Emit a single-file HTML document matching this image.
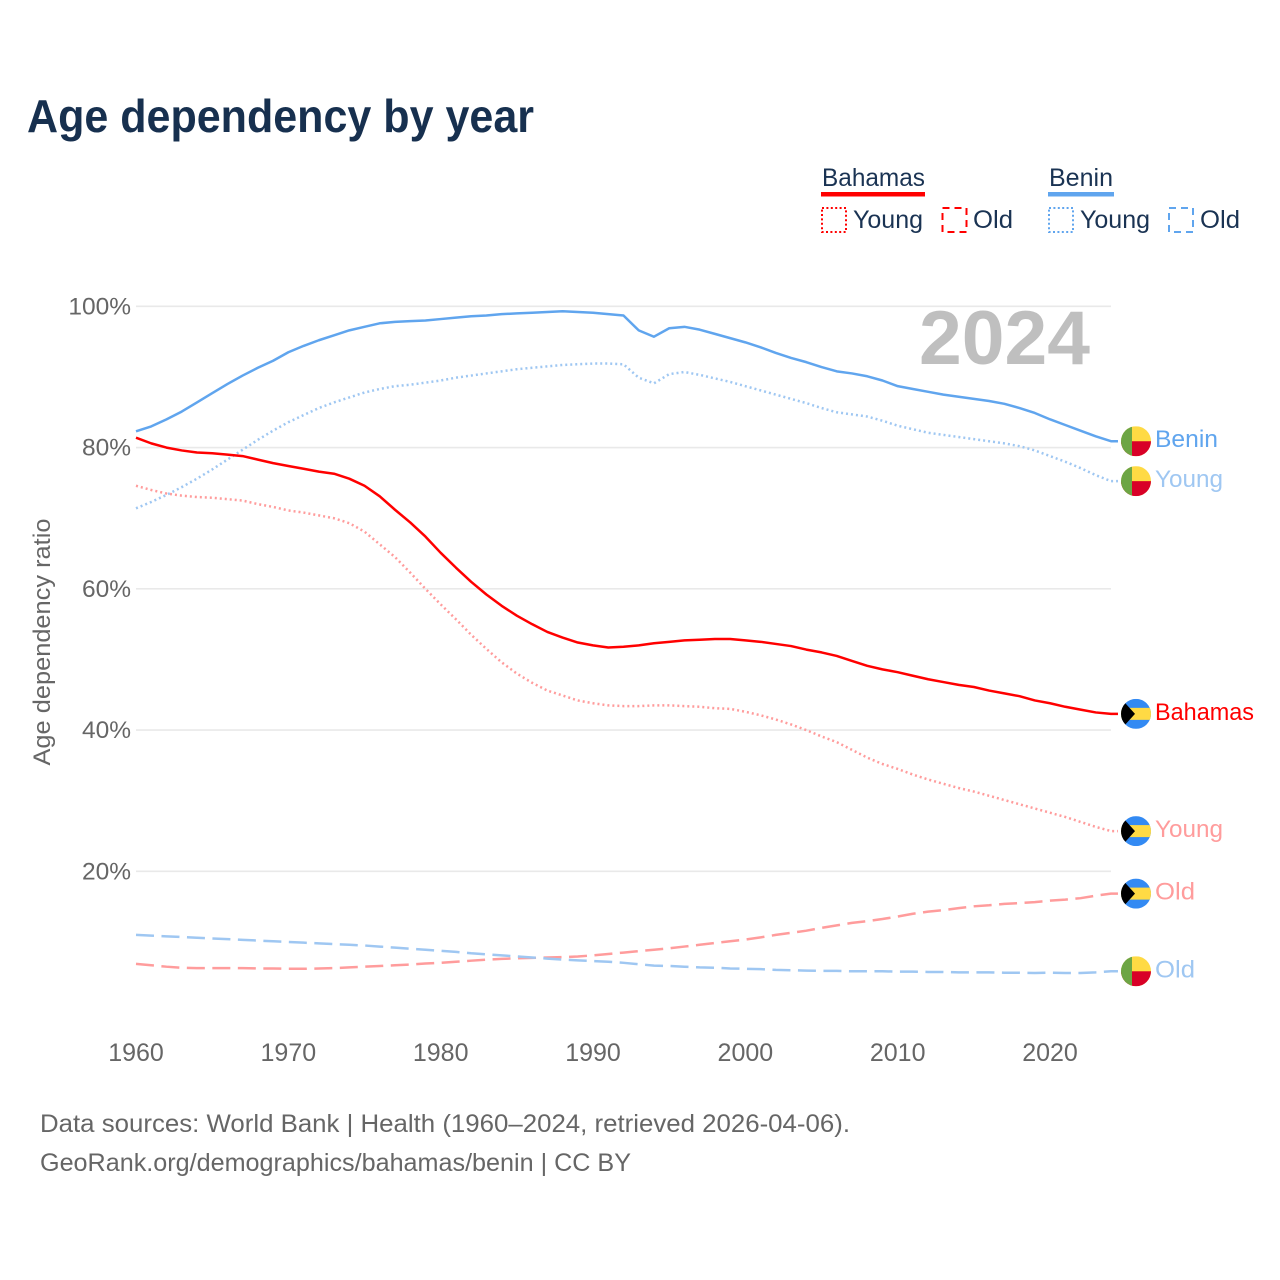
<!DOCTYPE html>
<html lang="en">
<head>
<meta charset="utf-8">
<title>Age dependency by year</title>
<style>
html,body{margin:0;padding:0;background:#fff}
svg{display:block}
text{font-family:"Liberation Sans",sans-serif}
</style>
</head>
<body>
<svg id="chart" xmlns="http://www.w3.org/2000/svg" width="1280" height="1280" viewBox="0 0 1280 1280">
  <rect width="1280" height="1280" fill="#fff"/>
  <text x="27" y="132" font-size="46" font-weight="700" fill="#17304f" textLength="507" lengthAdjust="spacingAndGlyphs">Age dependency by year</text>

  <g font-size="25" fill="#1a3353">
    <g>
      <text x="822" y="186" textLength="103" lengthAdjust="spacingAndGlyphs">Bahamas</text>
      <rect x="821" y="192" width="104" height="4.5" fill="#ff0000"/>
      <rect x="822" y="208" width="24" height="24" fill="none" stroke="#ff0000" stroke-width="2" stroke-dasharray="2 2.4"/>
      <text x="853" y="228" textLength="70" lengthAdjust="spacingAndGlyphs">Young</text>
      <rect x="942.500" y="208" width="24" height="24" fill="none" stroke="#ff0000" stroke-width="2" stroke-dasharray="7 5"/>
      <text x="973" y="228" textLength="40" lengthAdjust="spacingAndGlyphs">Old</text>
    </g>
    <g>
      <text x="1049" y="186" textLength="64" lengthAdjust="spacingAndGlyphs">Benin</text>
      <rect x="1048" y="192" width="66" height="4.5" fill="#60a5ee"/>
      <rect x="1049" y="208" width="24" height="24" fill="none" stroke="#60a5ee" stroke-width="2" stroke-dasharray="2 2.4"/>
      <text x="1080" y="228" textLength="70" lengthAdjust="spacingAndGlyphs">Young</text>
      <rect x="1169" y="208" width="24" height="24" fill="none" stroke="#60a5ee" stroke-width="2" stroke-dasharray="7 5"/>
      <text x="1200" y="228" textLength="40" lengthAdjust="spacingAndGlyphs">Old</text>
    </g>
  </g>

  <text transform="translate(50,642) rotate(-90)" text-anchor="middle" font-size="24" fill="#666666" textLength="247" lengthAdjust="spacingAndGlyphs">Age dependency ratio</text>

  <g id="grid"></g>
  <g id="y-ticks"></g>
  <g id="x-ticks"></g>

  <text x="919" y="364" font-size="76" font-weight="700" fill="#bfbfbf" textLength="171" lengthAdjust="spacingAndGlyphs">2024</text>

  <g id="series"></g>
  <g id="ends"></g>

  <g font-size="25" fill="#666666">
    <text x="40" y="1132" textLength="810" lengthAdjust="spacingAndGlyphs">Data sources: World Bank | Health (1960–2024, retrieved 2026-04-06).</text>
    <text x="40" y="1171" textLength="591" lengthAdjust="spacingAndGlyphs">GeoRank.org/demographics/bahamas/benin | CC BY</text>
  </g>
</svg>

<script>
const firstYear = 1960;
const yTickValues = [20, 40, 60, 80, 100];
const yTickLabels = ["20%", "40%", "60%", "80%", "100%"];
const xTickYears = [1960, 1970, 1980, 1990, 2000, 2010, 2020];

const beninTotal = [
  82.3,83.0,84.0,85.1,86.4,87.7,89.0,90.2,91.3,92.3,
  93.5,94.4,95.2,95.9,96.6,97.1,97.6,97.8,97.9,98.0,
  98.2,98.4,98.6,98.7,98.9,99.0,99.1,99.2,99.3,99.2,
  99.1,98.9,98.7,96.6,95.7,96.9,97.1,96.7,96.1,95.5,
  94.9,94.2,93.4,92.7,92.1,91.4,90.8,90.5,90.1,89.5,
  88.7,88.3,87.9,87.5,87.2,86.9,86.6,86.2,85.6,84.9,
  84.0,83.2,82.4,81.6,80.9
];
const beninYoung = [
  71.4,72.3,73.3,74.4,75.6,76.9,78.3,79.7,81.1,82.4,
  83.6,84.6,85.6,86.4,87.1,87.8,88.3,88.7,88.9,89.2,
  89.5,89.9,90.2,90.5,90.8,91.1,91.3,91.5,91.7,91.8,
  91.9,91.9,91.8,89.9,89.1,90.4,90.7,90.3,89.8,89.3,
  88.7,88.1,87.5,86.9,86.3,85.6,85.0,84.7,84.4,83.8,
  83.1,82.6,82.1,81.8,81.5,81.2,80.9,80.6,80.2,79.6,
  78.8,78.0,77.1,76.1,75.25
];
const beninOld = [
  11.0,10.9,10.8,10.7,10.6,10.5,10.4,10.3,10.2,10.1,
  10.0,9.9,9.8,9.7,9.6,9.5,9.35,9.2,9.05,8.9,
  8.75,8.6,8.4,8.25,8.1,7.95,7.8,7.65,7.5,7.4,
  7.3,7.2,7.05,6.85,6.65,6.6,6.5,6.4,6.35,6.25,
  6.2,6.15,6.05,6.0,5.95,5.9,5.9,5.85,5.85,5.85,
  5.8,5.8,5.75,5.75,5.7,5.7,5.7,5.65,5.65,5.6,
  5.65,5.6,5.6,5.7,5.85
];
const bahamasTotal = [
  81.4,80.6,80.0,79.6,79.3,79.2,79.0,78.8,78.3,77.8,
  77.4,77.0,76.6,76.3,75.6,74.6,73.1,71.2,69.4,67.4,
  65.1,63.0,61.0,59.2,57.6,56.2,55.0,53.9,53.1,52.4,
  52.0,51.7,51.8,52.0,52.3,52.5,52.7,52.8,52.9,52.9,
  52.7,52.5,52.2,51.9,51.4,51.0,50.5,49.8,49.1,48.6,
  48.2,47.7,47.2,46.8,46.4,46.1,45.6,45.2,44.8,44.2,
  43.8,43.3,42.9,42.5,42.3
];
const bahamasYoung = [
  74.6,74.0,73.5,73.2,73.0,72.9,72.7,72.5,72.0,71.6,
  71.1,70.8,70.4,70.0,69.3,68.1,66.3,64.5,62.3,60.0,
  57.8,55.7,53.5,51.5,49.6,48.0,46.7,45.6,44.9,44.2,
  43.8,43.5,43.4,43.4,43.5,43.5,43.4,43.3,43.1,43.0,
  42.6,42.1,41.5,40.8,40.0,39.1,38.3,37.2,36.1,35.2,
  34.5,33.7,33.0,32.4,31.8,31.3,30.7,30.1,29.5,28.9,
  28.3,27.7,27.0,26.3,25.7
];
const bahamasOld = [
  6.9,6.7,6.5,6.35,6.3,6.3,6.3,6.3,6.25,6.25,
  6.2,6.2,6.25,6.3,6.4,6.5,6.6,6.7,6.8,6.95,
  7.05,7.2,7.35,7.5,7.6,7.7,7.75,7.8,7.85,7.95,
  8.1,8.3,8.5,8.7,8.9,9.1,9.35,9.6,9.85,10.1,
  10.35,10.65,11.0,11.3,11.6,12.0,12.35,12.7,12.95,13.25,
  13.6,14.0,14.3,14.5,14.8,15.05,15.2,15.4,15.5,15.65,
  15.85,16.0,16.2,16.55,16.85
];

const NS = "http://www.w3.org/2000/svg";
function xScale(year) { return 136 + (year - 1960) * 15.234; }
function yScale(v) { return 1012.6 - v * 7.0625; }
function labelLength(text) {
  if (text === "Bahamas") return 99;
  if (text === "Benin") return 63;
  if (text === "Young") return 68;
  return 40;
}
function make(tag, attrs, parent) {
  const el = document.createElementNS(NS, tag);
  for (const k in attrs) el.setAttribute(k, attrs[k]);
  parent.appendChild(el);
  return el;
}

const gridG = document.getElementById("grid");
const yG = document.getElementById("y-ticks");
yTickValues.forEach(function (v, i) {
  const line = make("line", {x1: 136, x2: xScale(2024), y1: yScale(v), y2: yScale(v), stroke: "#e9e9e9", "stroke-width": 1.6}, gridG);
  
  
  const t = make("text", {x: 131, y: yScale(v) + 8, "text-anchor": "end", "font-size": 24.5, fill: "#666666"}, yG);
  
  
  t.textContent = yTickLabels[i];
});

const xG = document.getElementById("x-ticks");
xTickYears.forEach(function (yr) {
  const t = make("text", {x: xScale(yr), y: 1061, "text-anchor": "middle", "font-size": 25, fill: "#666666"}, xG);
  
  
  t.textContent = String(yr);
});

const seriesList = [
  {key: "bahamas-old", values: bahamasOld, color: "#ff9c9c", dash: "18 7.5", label: "Old", flag: "bahamas"},
  {key: "benin-old", values: beninOld, color: "#9fc7f2", dash: "18 7.5", label: "Old", flag: "benin"},
  {key: "bahamas-young", values: bahamasYoung, color: "#ff9c9c", dash: "2 3", label: "Young", flag: "bahamas"},
  {key: "benin-young", values: beninYoung, color: "#9fc7f2", dash: "2 3", label: "Young", flag: "benin"},
  {key: "bahamas-total", values: bahamasTotal, color: "#ff0000", dash: "", label: "Bahamas", flag: "bahamas"},
  {key: "benin-total", values: beninTotal, color: "#60a5ee", dash: "", label: "Benin", flag: "benin"}
];

function drawFlag(kind, cx, cy, parent, idx) {
  const g = make("g", {transform: "translate(" + cx + "," + cy + ")"}, parent);
  
  
  const clip = make("clipPath", {id: "flag-clip-" + idx}, g);
  make("circle", {r: 15}, clip);
  const inner = make("g", {"clip-path": "url(#flag-clip-" + idx + ")"}, g);
  if (kind === "benin") {
    make("rect", {x: -15, y: -15, width: 30, height: 30, fill: "#ffda44"}, inner);
    make("rect", {x: -15, y: 0, width: 30, height: 15, fill: "#d80027"}, inner);
    make("rect", {x: -15, y: -15, width: 11, height: 30, fill: "#6da544"}, inner);
  } else {
    make("rect", {x: -15, y: -15, width: 30, height: 30, fill: "#338af3"}, inner);
    make("rect", {x: -15, y: -6, width: 30, height: 12, fill: "#ffda44"}, inner);
    make("polygon", {points: "-1,0 -11,-11 -15,-15 -15,15 -11,11", fill: "#000000"}, inner);
  }
}

const seriesG = document.getElementById("series");
const endsG = document.getElementById("ends");
seriesList.forEach(function (s, idx) {
  const pts = s.values.map(function (v, i) {
    return xScale(firstYear + i).toFixed(2) + "," + yScale(v).toFixed(2);
  });
  const last = s.values[s.values.length - 1];
  const lastX = xScale(firstYear + s.values.length - 1);
  const lastY = yScale(last);
  pts.push((lastX + 7).toFixed(2) + "," + lastY.toFixed(2));
  const attrs = {points: pts.join(" "), fill: "none", stroke: s.color, "stroke-width": 2.5, "stroke-linejoin": "round"};
  if (s.dash) attrs["stroke-dasharray"] = s.dash;
  const line = make("polyline", attrs, seriesG);
  
  

  drawFlag(s.flag, 1136, lastY, endsG, idx);

  const label = make("text", {x: 1155, y: lastY + 6, "font-size": 24.5, fill: s.color, textLength: labelLength(s.label), lengthAdjust: "spacingAndGlyphs"}, endsG);
  
  
  label.textContent = s.label;
});
</script>
</body>
</html>
